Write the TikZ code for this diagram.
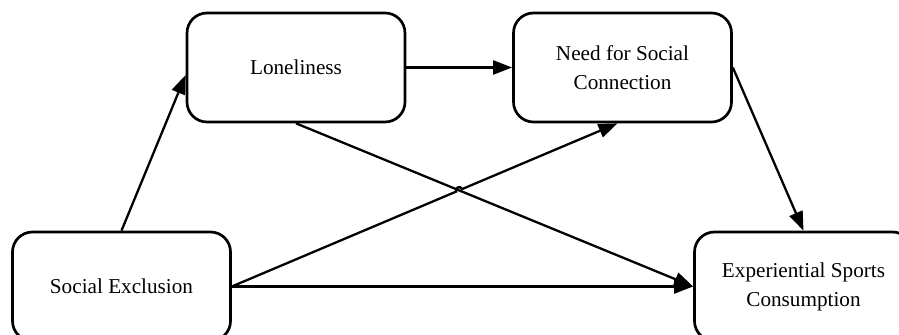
\documentclass[tikz,border=0pt]{standalone}
\usepackage{fontspec}
\setmainfont{Liberation Serif}
\usetikzlibrary{arrows.meta,calc,intersections}
\begin{document}
\begin{tikzpicture}[x=0.5pt,y=-0.5pt,
  box/.style={draw,line width=1.35pt,rounded corners=10pt,minimum width=109pt,minimum height=54.5pt,
    align=center,font=\fontsize{10.6}{14.5}\selectfont,inner sep=0pt},
  link/.style={line width=1.15pt,-{Triangle[length=9.5pt,width=7pt]}}]
\useasboundingbox (0,0) rectangle (899,335);
\node[box] (lon) at (296,67.5) {Loneliness};
\node[box] (need) at (622.5,67.5) {Need for Social\\Connection};
\node[box] (se) at (121.5,286.5) {Social Exclusion};
\node[box] (esc) at (803.5,286.5) {Experiential Sports\\Consumption};
\coordinate (lonin) at ($(lon.west)+(0,7.5)$);
\coordinate (needin) at ($(need.south)+(-5,0)$);
\draw[link] (se.north) -- (lonin);
\draw[link] (lon.east) -- (need.west);
\draw[link] (need.east) -- (esc.north);
\draw[link] (se.east) -- (esc.west);
\draw[link,name path=l3] (lon.south) -- (esc.west);
\path[name path=l4] (se.east) -- (needin);
\path[name intersections={of=l3 and l4,by=X}];
\draw[link] (se.east) -- ($(X)!1.6pt!(se.east)$) arc[start angle=203,end angle=23,radius=1.6pt] -- (needin);
\end{tikzpicture}
\end{document}
